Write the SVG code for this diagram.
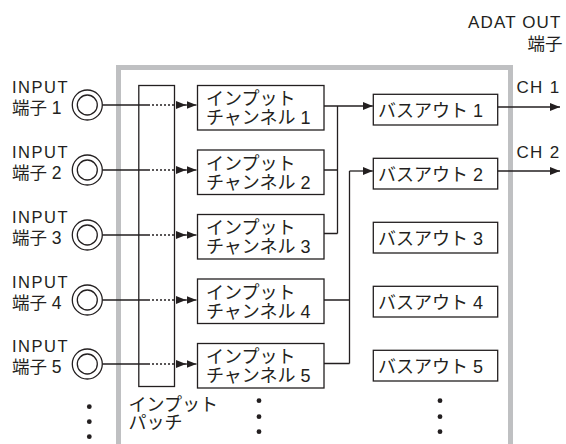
<svg xmlns="http://www.w3.org/2000/svg" width="566" height="444" viewBox="0 0 566 444">
<style>
text{font-family:"Liberation Sans","Noto Sans CJK JP",sans-serif;fill:#231f20}
.lbl{font-size:16.5px;letter-spacing:1.5px}
.jp{font-size:17.5px}
.box{fill:#fff;stroke:#231f20;stroke-width:1.3}
.bt{font-size:18px}
.ln{fill:none;stroke:#231f20;stroke-width:1.3}
.dot{fill:none;stroke:#231f20;stroke-width:1.3;stroke-dasharray:2 2}
.jack{fill:#fff;stroke:#231f20;stroke-width:1.3}
.d{fill:#231f20}
</style>
<defs>
<marker id="ah" markerUnits="userSpaceOnUse" markerWidth="11" markerHeight="9" refX="10" refY="4" orient="auto">
<path d="M0,0 L10,4 L0,8 z" fill="#231f20"/>
</marker>
</defs>
<path id="frame" d="M118.5,444 V67.5 H510.5 V444" fill="none" stroke="#bfc0c2" stroke-width="5"/>
<g id="adat-label">
<text x="468" y="28" style="font-size:17px;letter-spacing:1.15px">ADAT OUT</text>
<text x="527.5" y="50" class="jp">端子</text>
</g>
<g id="patch">
<rect x="138.8" y="85.5" width="35.7" height="301" class="box"/>
<text x="128.5" y="410.5" class="bt">インプット</text>
<text x="128.5" y="429" class="bt">パッチ</text>
</g>
<g id="inputs">
<g id="in1"><text x="12" y="93" class="lbl">INPUT</text><text x="12" y="114" class="jp">端子 1</text><circle cx="87.3" cy="105" r="15" class="jack"/><circle cx="87.3" cy="105" r="10" class="jack"/></g>
<g id="in2"><text x="12" y="158" class="lbl">INPUT</text><text x="12" y="179" class="jp">端子 2</text><circle cx="87.3" cy="170" r="15" class="jack"/><circle cx="87.3" cy="170" r="10" class="jack"/></g>
<g id="in3"><text x="12" y="223" class="lbl">INPUT</text><text x="12" y="244" class="jp">端子 3</text><circle cx="87.3" cy="235" r="15" class="jack"/><circle cx="87.3" cy="235" r="10" class="jack"/></g>
<g id="in4"><text x="12" y="288" class="lbl">INPUT</text><text x="12" y="309" class="jp">端子 4</text><circle cx="87.3" cy="300" r="15" class="jack"/><circle cx="87.3" cy="300" r="10" class="jack"/></g>
<g id="in5"><text x="12" y="352" class="lbl">INPUT</text><text x="12" y="373" class="jp">端子 5</text><circle cx="87.3" cy="364" r="15" class="jack"/><circle cx="87.3" cy="364" r="10" class="jack"/></g>
</g>
<g id="channels">
<g id="ch1"><rect x="197.5" y="85.5" width="126.5" height="44.5" class="box"/><text x="206" y="105" class="bt">インプット</text><text x="206" y="124" class="bt">チャンネル 1</text></g>
<g id="ch2"><rect x="197.5" y="150" width="126.5" height="44.5" class="box"/><text x="206" y="169.5" class="bt">インプット</text><text x="206" y="188.5" class="bt">チャンネル 2</text></g>
<g id="ch3"><rect x="197.5" y="214.5" width="126.5" height="44.5" class="box"/><text x="206" y="234" class="bt">インプット</text><text x="206" y="253" class="bt">チャンネル 3</text></g>
<g id="ch4"><rect x="197.5" y="279" width="126.5" height="44.5" class="box"/><text x="206" y="298.5" class="bt">インプット</text><text x="206" y="317.5" class="bt">チャンネル 4</text></g>
<g id="ch5"><rect x="197.5" y="343.5" width="126.5" height="44.5" class="box"/><text x="206" y="363" class="bt">インプット</text><text x="206" y="382" class="bt">チャンネル 5</text></g>
</g>
<g id="buses">
<g id="bus1"><rect x="373.3" y="94.3" width="124.4" height="30.7" class="box"/><text x="378" y="116.5" class="bt">バスアウト 1</text></g>
<g id="bus2"><rect x="373.3" y="158.3" width="124.4" height="30.7" class="box"/><text x="378" y="180.5" class="bt">バスアウト 2</text></g>
<g id="bus3"><rect x="373.3" y="222.3" width="124.4" height="30.7" class="box"/><text x="378" y="244.5" class="bt">バスアウト 3</text></g>
<g id="bus4"><rect x="373.3" y="286.3" width="124.4" height="30.7" class="box"/><text x="378" y="308.5" class="bt">バスアウト 4</text></g>
<g id="bus5"><rect x="373.3" y="350.3" width="124.4" height="30.7" class="box"/><text x="378" y="372.5" class="bt">バスアウト 5</text></g>
</g>
<g id="outputs">
<text x="516.5" y="93" style="font-size:17px;letter-spacing:1.3px">CH 1</text>
<text x="516.5" y="157.5" style="font-size:17px;letter-spacing:1.3px">CH 2</text>
</g>
<g id="connectors">
<path class="ln" d="M102.5,105 H148 M102.5,170 H148 M102.5,235 H148 M102.5,300 H148 M102.5,364 H148"/>
<path class="dot" d="M148,105 H186" marker-end="url(#ah)"/>
<path class="dot" d="M148,170 H186" marker-end="url(#ah)"/>
<path class="dot" d="M148,235 H186" marker-end="url(#ah)"/>
<path class="dot" d="M148,300 H186" marker-end="url(#ah)"/>
<path class="dot" d="M148,364 H186" marker-end="url(#ah)"/>
<path class="ln" d="M186,105 H196.5" marker-end="url(#ah)"/>
<path class="ln" d="M186,170 H196.5" marker-end="url(#ah)"/>
<path class="ln" d="M186,235 H196.5" marker-end="url(#ah)"/>
<path class="ln" d="M186,300 H196.5" marker-end="url(#ah)"/>
<path class="ln" d="M186,364 H196.5" marker-end="url(#ah)"/>
<path class="ln" d="M324,106 H372.8" marker-end="url(#ah)"/>
<path class="ln" d="M324,170 H337.5 M324,233.5 H337.5 M337.5,106 V233.5"/>
<path class="ln" d="M349.5,171 H372.8" marker-end="url(#ah)"/>
<path class="ln" d="M349.5,171 V363.5 M324,300 H349.5 M324,363.5 H349.5"/>
<path class="ln" d="M497.7,107 H560" marker-end="url(#ah)"/>
<path class="ln" d="M497.7,171 H560" marker-end="url(#ah)"/>
</g>
<g id="ellipsis">
<circle cx="89.3" cy="406.7" r="2.4" class="d"/><circle cx="89.3" cy="421.7" r="2.4" class="d"/><circle cx="89.3" cy="436.7" r="2.4" class="d"/>
<circle cx="259" cy="400.7" r="2.4" class="d"/><circle cx="259" cy="416.7" r="2.4" class="d"/><circle cx="259" cy="431.7" r="2.4" class="d"/>
<circle cx="440" cy="400.7" r="2.4" class="d"/><circle cx="440" cy="416.7" r="2.4" class="d"/><circle cx="440" cy="431.7" r="2.4" class="d"/>
</g>
</svg>
